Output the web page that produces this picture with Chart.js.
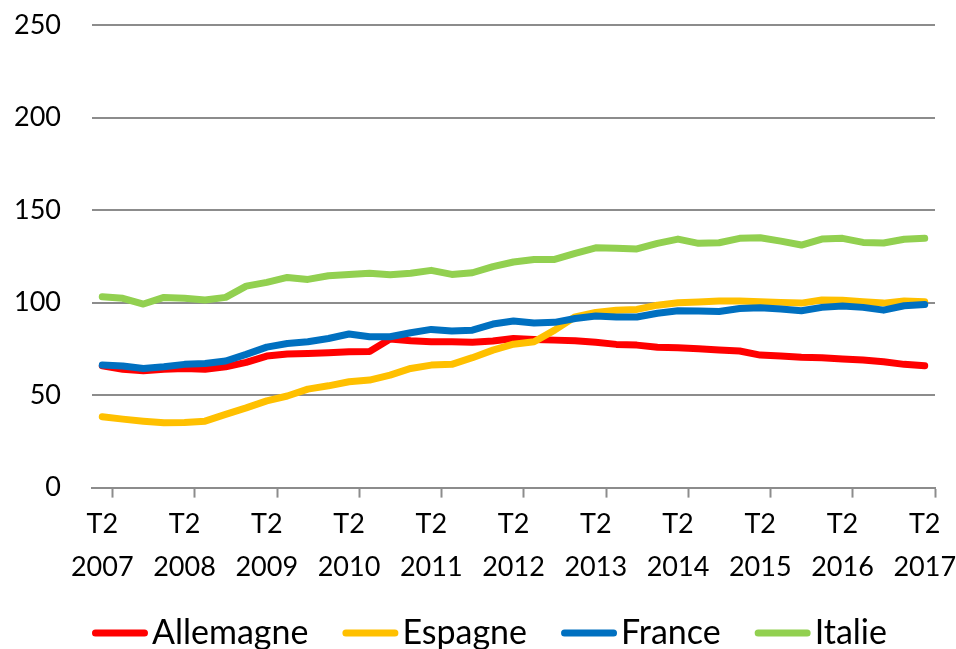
<!DOCTYPE html>
<html>
<head>
<meta charset="utf-8">
<script src="https://cdn.jsdelivr.net/npm/chart.js@4.4.1/dist/chart.umd.min.js"></script>
<style>
  html, body { margin: 0; padding: 0; background: #fff; }
  #wrap { width: 956px; height: 649px; }
</style>
</head>
<body>
<div id="wrap"><canvas id="priceChart"></canvas></div>
<script>
const quarters = [
  'T2 2007', 'T3 2007', 'T4 2007', 'T1 2008', 'T2 2008', 'T3 2008', 'T4 2008', 'T1 2009',
  'T2 2009', 'T3 2009', 'T4 2009', 'T1 2010', 'T2 2010', 'T3 2010', 'T4 2010', 'T1 2011',
  'T2 2011', 'T3 2011', 'T4 2011', 'T1 2012', 'T2 2012', 'T3 2012', 'T4 2012', 'T1 2013',
  'T2 2013', 'T3 2013', 'T4 2013', 'T1 2014', 'T2 2014', 'T3 2014', 'T4 2014', 'T1 2015',
  'T2 2015', 'T3 2015', 'T4 2015', 'T1 2016', 'T2 2016', 'T3 2016', 'T4 2016', 'T1 2017',
  'T2 2017'
];

const allemagne = [
  65.8, 64.0, 63.2, 63.9, 64.4, 64.0, 65.3, 67.7, 71.1, 72.2,
  72.5, 72.9, 73.4, 73.6, 80.3, 79.4, 78.8, 78.8, 78.5, 79.2,
  80.6, 80.1, 79.7, 79.4, 78.5, 77.4, 77.0, 75.9, 75.6, 75.0,
  74.3, 73.8, 71.6, 71.1, 70.4, 70.2, 69.5, 68.9, 68.0, 66.6,
  65.8
];
const espagne = [
  38.3, 37.0, 35.9, 35.0, 35.2, 35.9, 39.6, 43.1, 46.9, 49.5,
  53.2, 55.0, 57.2, 58.1, 60.8, 64.4, 66.2, 66.6, 70.2, 74.3,
  77.5, 78.8, 85.1, 92.3, 94.7, 95.9, 96.3, 98.6, 99.9, 100.3,
  100.8, 100.8, 100.4, 100.1, 99.7, 101.4, 101.2, 100.4, 99.7, 100.8,
  100.5
];
const france = [
  66.2, 65.7, 64.4, 65.3, 66.6, 67.1, 68.4, 72.0, 75.9, 77.9,
  78.8, 80.6, 83.0, 81.5, 81.5, 83.7, 85.5, 84.6, 85.1, 88.4,
  90.0, 88.9, 89.3, 91.4, 92.7, 92.2, 92.2, 94.2, 95.6, 95.4,
  95.2, 96.8, 97.2, 96.5, 95.6, 97.4, 98.1, 97.4, 95.9, 98.3,
  99.0
];
const italie = [
  103.1, 102.3, 99.2, 102.8, 102.3, 101.4, 102.8, 108.9, 110.9, 113.6,
  112.5, 114.5, 115.2, 115.8, 115.0, 115.8, 117.4, 115.2, 116.1, 119.4,
  121.9, 123.3, 123.3, 126.6, 129.6, 129.3, 129.0, 132.0, 134.3, 132.0,
  132.3, 134.7, 135.0, 133.2, 131.1, 134.3, 134.7, 132.5, 132.2, 134.2,
  134.7
];

const seriesNames = ['Allemagne', 'Espagne', 'France', 'Italie'];
const seriesColors = ['#FF0000', '#FFC000', '#0070C0', '#92D050'];
const yTicks = [0, 50, 100, 150, 200, 250];

const FONT = 'Lato, "Open Sans", sans-serif';
const GRID = '#8c8c8c';
const Y_PAD = 31;

// legend drawn like the Excel one: short thick line, small gap, big text
const bottomLegend = {
  id: 'bottomLegend',
  afterDraw(chart) {
    const ctx = chart.ctx;
    const y = chart.height - 16;
    let x = chart.chartArea.left;
    ctx.save();
    ctx.font = '34px ' + FONT;
    ctx.textBaseline = 'middle';
    ctx.textAlign = 'left';
    chart.data.datasets.forEach(ds => {
      ctx.strokeStyle = ds.borderColor;
      ctx.lineWidth = 7;
      ctx.lineCap = 'round';
      ctx.beginPath();
      ctx.moveTo(x + 3.5, y);
      ctx.lineTo(x + 52.5, y);
      ctx.stroke();
      ctx.fillStyle = '#000';
      ctx.fillText(ds.label, x + 60, y);
      x += 60 + ctx.measureText(ds.label).width + 34;
    });
    ctx.restore();
  }
};

const ctx = document.getElementById('priceChart').getContext('2d');
const values = [allemagne, espagne, france, italie];

new Chart(ctx, {
  type: 'line',
  data: {
    labels: quarters,
    datasets: values.map((v, i) => ({
      label: seriesNames[i],
      data: v,
      borderColor: seriesColors[i],
      backgroundColor: seriesColors[i],
      borderWidth: 7,
      borderCapStyle: 'round',
      borderJoinStyle: 'round',
      pointRadius: 0,
      tension: 0,
      order: values.length - i // later series on top, as in Excel
    }))
  },
  options: {
    responsive: true,
    maintainAspectRatio: false,
    animation: false,
    layout: { padding: { top: 25, left: 14, right: 21, bottom: 55 } },
    plugins: {
      legend: { display: false },
      tooltip: { enabled: false }
    },
    scales: {
      x: {
        type: 'category',
        offset: true,
        grid: {
          offset: true,
          drawOnChartArea: false,
          drawTicks: true,
          tickLength: 10,
          tickWidth: 2,
          tickColor: c => (c.type === 'scale' || c.index % 4 === 1) ? GRID : 'rgba(0,0,0,0)'
        },
        border: { display: true, color: GRID, width: 2 },
        afterFit: axis => { axis.paddingLeft = 0; axis.paddingRight = 0; },
        ticks: {
          autoSkip: false,
          maxRotation: 0,
          padding: 5,
          color: '#000',
          font: { family: FONT, size: 27, lineHeight: 1.6 },
          callback: function (value, index) {
            return index % 4 === 0 ? quarters[index].split(' ') : '';
          }
        }
      },
      y: {
        min: yTicks[0],
        max: yTicks[yTicks.length - 1],
        afterBuildTicks: axis => { axis.ticks = yTicks.map(v => ({ value: v })); },
        // chart.js counts tick padding twice; keep it once
        afterFit: axis => {
          axis.width -= Y_PAD;
          axis.paddingTop -= Y_PAD;
          axis.paddingBottom -= Y_PAD;
        },
        grid: { color: GRID, lineWidth: 2, drawTicks: false },
        border: { display: false },
        ticks: {
          padding: Y_PAD,
          color: '#000',
          font: { family: FONT, size: 27 }
        }
      }
    }
  },
  plugins: [bottomLegend]
});
</script>
</body>
</html>
